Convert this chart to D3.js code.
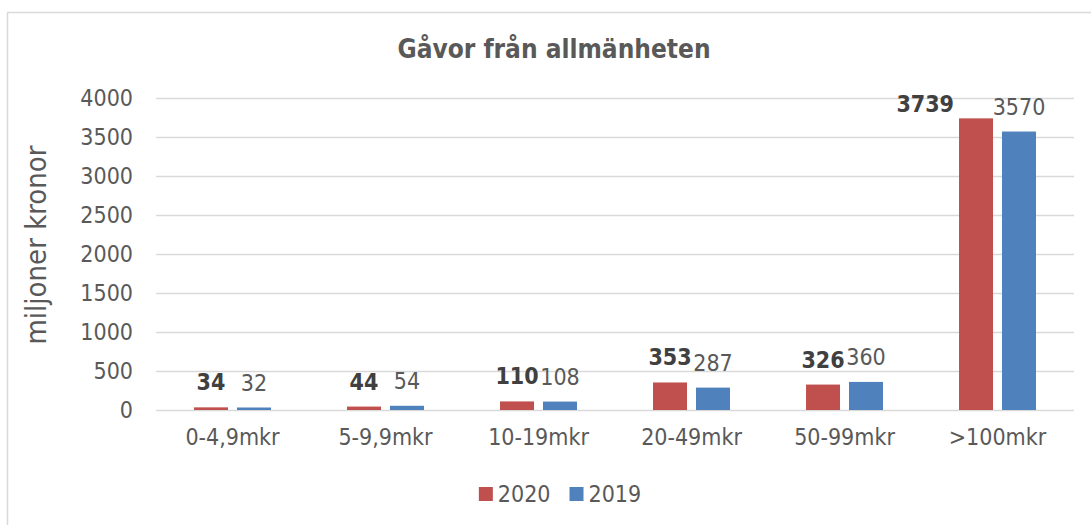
<!DOCTYPE html>
<html lang="sv">
<head>
<meta charset="UTF-8">
<title>Gåvor från allmänheten</title>
<script src="https://d3js.org/d3.v7.min.js"></script>
<style>
    body {
        margin: 0;
        background: #fff;
    }
    svg text {
        font-family: "DejaVu Sans Condensed", "DejaVu Sans", sans-serif;
        font-stretch: condensed;
    }
</style>
</head>
<body>
<svg id="chart" width="1091" height="525"></svg>
<script>
    var categories = ['0-4,9mkr', '5-9,9mkr', '10-19mkr', '20-49mkr', '50-99mkr', '>100mkr'];
    var seriesNames = ['2020', '2019'];
    var values2020 = [34, 44, 110, 353, 326, 3739];
    var values2019 = [32, 54, 108, 287, 360, 3570];
    var yTicks = [0, 500, 1000, 1500, 2000, 2500, 3000, 3500, 4000];

    var colors = {'2020': '#C0504D', '2019': '#4F81BD'};
    var textColor = '#595959';

    var svg = d3.select('#chart');

    // chart frame (continues past the bottom/right of the picture)
    svg.append('rect')
        .attr('x', 7.5).attr('y', 12.5)
        .attr('width', 1200).attr('height', 600)
        .attr('fill', 'none')
        .attr('stroke', '#d9d9d9')
        .attr('stroke-width', 1.5);

    var plot = {left: 156, right: 1074, top: 98, bottom: 410};

    var x0 = d3.scaleBand()
        .domain(categories)
        .range([plot.left, plot.right])
        .paddingInner(0.497)
        .paddingOuter(0.2485);

    var x1 = d3.scaleBand()
        .domain(seriesNames)
        .range([0, x0.bandwidth()])
        .paddingInner(0.209);

    var y = d3.scaleLinear()
        .domain([0, 4000])
        .range([plot.bottom, plot.top]);

    // gridlines + tick labels
    var yAxis = d3.axisLeft(y)
        .tickValues(yTicks)
        .tickFormat(d3.format('d'))
        .tickSize(-(plot.right - plot.left))
        .tickPadding(23);

    var gy = svg.append('g')
        .attr('transform', 'translate(' + plot.left + ',0)')
        .call(yAxis);
    gy.select('.domain').remove();
    gy.selectAll('.tick line')
        .attr('stroke', '#d9d9d9')
        .attr('stroke-width', 1.5);
    gy.selectAll('.tick text')
        .attr('fill', textColor)
        .style('font-size', '23px')
        .style('font-family', null);

    // category labels
    var gx = svg.append('g')
        .attr('transform', 'translate(0,' + plot.bottom + ')')
        .call(d3.axisBottom(x0).tickSize(0).tickPadding(19));
    gx.select('.domain').remove();
    gx.selectAll('.tick text')
        .attr('fill', textColor)
        .style('font-size', '23px')
        .style('font-family', null);

    var rows = categories.map(function (c, i) {
        return {cat: c, vals: [
            {key: '2020', value: values2020[i]},
            {key: '2019', value: values2019[i]}
        ]};
    });

    var groups = svg.append('g').selectAll('g')
        .data(rows)
        .enter().append('g')
        .attr('transform', function (d) { return 'translate(' + x0(d.cat) + ',0)'; });

    groups.selectAll('rect')
        .data(function (d) { return d.vals; })
        .enter().append('rect')
        .attr('x', function (d) { return x1(d.key); })
        .attr('y', function (d) { return y(d.value); })
        .attr('width', x1.bandwidth())
        .attr('height', function (d) { return y(0) - y(d.value); })
        .attr('fill', function (d) { return colors[d.key]; });

    // value labels
    var labels = groups.selectAll('text.val')
        .data(function (d) { return d.vals; })
        .enter().append('text')
        .attr('class', 'val')
        .attr('x', function (d) { return x1(d.key) + x1.bandwidth() / 2; })
        .attr('y', function (d) { return Math.max(y(d.value) - 17, plot.top + 14); })
        .attr('text-anchor', 'middle')
        .attr('fill', function (d) { return d.key === '2020' ? '#404040' : textColor; })
        .style('font-weight', function (d) { return d.key === '2020' ? 'bold' : 'normal'; })
        .style('font-size', '23px')
        .text(function (d) { return d.value; });

    // push the bold label to the left of its bar when it would run into its neighbour
    groups.each(function () {
        var t = d3.select(this).selectAll('text.val').nodes();
        var a = t[0].getBBox(), b = t[1].getBBox();
        if (a.x + a.width > b.x + 2) {
            d3.select(t[0])
                .attr('text-anchor', 'end')
                .attr('x', x1('2020') - 5);
        }
    });

    // title
    svg.append('text')
        .attr('x', 554)
        .attr('y', 58)
        .attr('text-anchor', 'middle')
        .attr('fill', textColor)
        .style('font-weight', 'bold')
        .style('font-size', '26px')
        .text('Gåvor från allmänheten');

    // y axis title
    svg.append('text')
        .attr('transform', 'translate(46,245) rotate(-90)')
        .attr('text-anchor', 'middle')
        .attr('fill', textColor)
        .style('font-size', '29px')
        .text('miljoner kronor');

    // legend
    var legend = svg.append('g');
    var lx = 0;
    seriesNames.forEach(function (name) {
        var item = legend.append('g').attr('transform', 'translate(' + lx + ',0)');
        item.append('rect')
            .attr('x', 0).attr('y', -7)
            .attr('width', 14).attr('height', 14)
            .attr('fill', colors[name]);
        var t = item.append('text')
            .attr('x', 19).attr('y', 8)
            .attr('fill', textColor)
            .style('font-size', '23px')
            .text(name);
        lx += 19 + t.node().getComputedTextLength() + 19;
    });
    var lw = lx - 19;
    legend.attr('transform', 'translate(' + (560 - lw / 2) + ',494)');
</script>
</body>
</html>
